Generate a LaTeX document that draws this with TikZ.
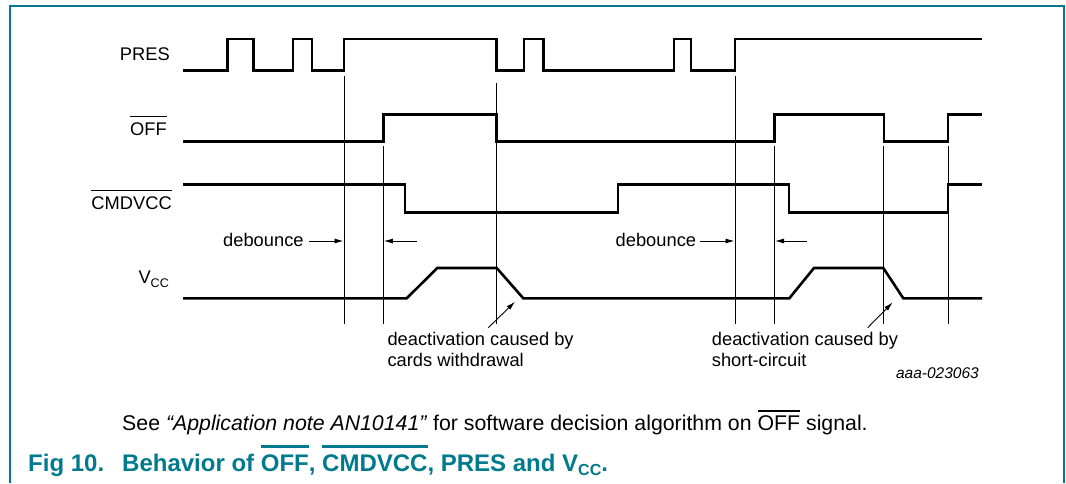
\documentclass[tikz,border=0pt]{standalone}
\usepackage{fontspec}
\setmainfont{Liberation Sans}
\usetikzlibrary{arrows.meta}
\definecolor{nxpteal}{RGB}{0,122,140}
\newcommand{\barred}[3]{\leavevmode\setbox0\hbox{#1}\rlap{\rule[\dimexpr\ht0+#2\relax]{\wd0}{#3}}\box0\relax}
\begin{document}
\begin{tikzpicture}[x=1pt,y=-1pt,
  sig/.style={line width=2.6pt, line join=miter, line cap=butt},
  guide/.style={line width=0.9pt},
  arr/.style={line width=0.9pt, -{Latex[length=9pt,width=5pt]}},
  lbl/.style={inner sep=0pt, font=\fontsize{18.3}{22}\selectfont},
  captxt/.style={inner sep=0pt, font=\fontsize{21.3}{25}\selectfont},
  ttl/.style={inner sep=0pt, text=nxpteal, font=\fontsize{24}{28}\selectfont\bfseries}]
\useasboundingbox (0,0) rectangle (1066,483);
% frame
\draw[nxpteal, line width=2pt] (10,483) -- (10,6) -- (1064,6) -- (1064,483);
% labels
\node[lbl, anchor=base east] (pres) at (170,60.5) {PRES};
\node[lbl, anchor=base east] (off) at (167,135) {\barred{OFF}{5pt}{1.2pt}};
\node[lbl, anchor=base east] (cmd) at (172,209) {\barred{CMDVCC}{5.5pt}{1.2pt}};
\node[lbl, anchor=base east] (vcc) at (169,283.5) {V\raisebox{-3.5pt}{\fontsize{12.5}{13}\selectfont CC}};
% signals
\draw[sig] (183,70.5) -- (227.5,70.5) -- (227.5,39) -- (253.5,39) -- (253.5,70.5) -- (293,70.5) -- (293,39) -- (312,39) -- (312,70.5) -- (344,70.5) -- (344,39) -- (496.7,39) -- (496.7,70.5) -- (524,70.5) -- (524,39) -- (543.7,39) -- (543.7,70.5) -- (674,70.5) -- (674,39) -- (691,39) -- (691,70.5) -- (735,70.5) -- (735,39) -- (982,39);
\draw[sig] (183,141.5) -- (383.3,141.5) -- (383.3,114.5) -- (496.7,114.5) -- (496.7,141.5) -- (774.5,141.5) -- (774.5,114.5) -- (883.8,114.5) -- (883.8,141.5) -- (948,141.5) -- (948,114.5) -- (982,114.5);
\draw[sig] (183,184.7) -- (405,184.7) -- (405,212.5) -- (618,212.5) -- (618,184.7) -- (788.8,184.7) -- (788.8,212.5) -- (948,212.5) -- (948,184.7) -- (982,184.7);
\draw[sig] (183,298.3) -- (406.7,298.3) -- (437.3,268) -- (496.7,268) -- (523.3,298.3) -- (789.3,298.3) -- (814,268) -- (883.3,268) -- (903.3,298.3) -- (982,298.3);
% guide lines
\draw[guide] (344,76) -- (344,323.5);
\draw[guide] (383.3,146) -- (383.3,323.5);
\draw[guide] (496.7,83) -- (496.7,323.5);
\draw[guide] (735,76) -- (735,323.5);
\draw[guide] (774.5,146) -- (774.5,323.5);
\draw[guide] (883.8,146) -- (883.8,323.5);
\draw[guide] (948,146) -- (948,323.5);
% debounce
\node[lbl, anchor=base west] (deb1) at (223,246.5) {debounce};
\coordinate (d1a) at (309,241); \coordinate (d1at) at (343.5,241);
\coordinate (d1b) at (417,241); \coordinate (d1bt) at (383.8,241);
\draw[arr] (d1a) -- (d1at);
\draw[arr] (d1b) -- (d1bt);
\node[lbl, anchor=base west] (deb2) at (615.5,246.5) {debounce};
\coordinate (d2a) at (700,241); \coordinate (d2at) at (734.5,241);
\coordinate (d2b) at (807,241); \coordinate (d2bt) at (775,241);
\draw[arr] (d2a) -- (d2at);
\draw[arr] (d2b) -- (d2bt);
% deactivation notes
\coordinate (n1s) at (488.3,327.7); \coordinate (n1e) at (515,301.7);
\draw[arr] (n1s) -- (n1e);
\node[lbl, anchor=base west] (t1a) at (387.3,345.5) {deactivation caused by};
\node[lbl, anchor=base west] (t1b) at (387.3,366.5) {cards withdrawal};
\coordinate (n2s) at (867.7,327.7); \coordinate (n2e) at (892.7,302.3);
\draw[arr] (n2s) -- (n2e);
\node[lbl, anchor=base west] (t2a) at (711.7,345.5) {deactivation caused by};
\node[lbl, anchor=base west] (t2b) at (711.7,366.5) {short-circuit};
\node[inner sep=0pt, anchor=base east, font=\fontsize{15.5}{18}\selectfont\itshape] (code) at (979,378) {aaa-023063};
% captions
\node[captxt, anchor=base west] (see) at (122,430) {See \textit{“Application note AN10141”} for software decision algorithm on \barred{OFF}{3.5pt}{1.3pt} signal.};
\node[ttl, anchor=base west] (fig) at (28,471.5) {Fig 10.};
\node[ttl, anchor=base west] (title) at (122,471.5) {Behavior of \barred{OFF}{7pt}{2.3pt}, \barred{CMDVCC}{7pt}{2.3pt}, PRES and V\raisebox{-4pt}{\fontsize{16}{16}\selectfont CC}.};
\end{tikzpicture}
\end{document}
